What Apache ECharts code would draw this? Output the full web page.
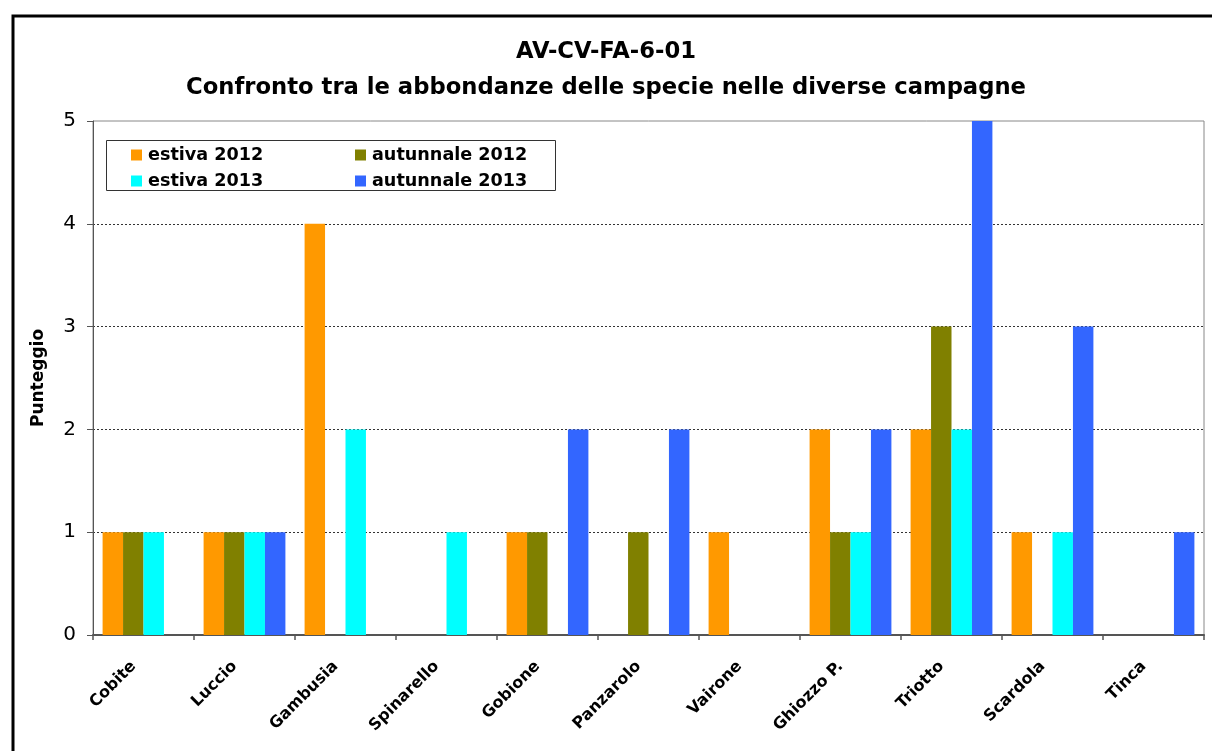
<!DOCTYPE html>
<html>
<head>
<meta charset="utf-8">
<script src="https://cdn.jsdelivr.net/npm/echarts@6/dist/echarts.min.js"></script>
<style>html,body{margin:0;padding:0;background:#fff;}#c{width:1212px;height:751px;}</style>
</head>
<body>
<div id="c"></div>
<script>
const categories = ['Cobite','Luccio','Gambusia','Spinarello','Gobione','Panzarolo','Vairone','Ghiozzo P.','Triotto','Scardola','Tinca'];
const estiva2012 = [1,1,4,0,1,0,1,2,2,1,0];
const autunnale2012 = [1,1,0,0,1,1,0,1,3,0,0];
const estiva2013 = [1,1,2,1,0,0,0,1,2,1,0];
const autunnale2013 = [0,1,0,0,2,2,0,2,5,3,1];
const seriesNames = ['estiva 2012','autunnale 2012','estiva 2013','autunnale 2013'];
const colors = ['#FF9900','#808000','#00FFFF','#3366FF'];
const yTicks = [0,1,2,3,4,5];

const FONT = 'DejaVu Sans';
const chart = echarts.init(document.getElementById('c'));
const data = [estiva2012, autunnale2012, estiva2013, autunnale2013];
const legendPos = [[131,146],[355,146],[131,172],[355,172]];
chart.setOption({
  animation: false,
  backgroundColor: '#fff',
  title: {
    text: 'AV-CV-FA-6-01\nConfronto tra le abbondanze delle specie nelle diverse campagne',
    left: 'center', top: 29,
    textStyle: {fontFamily: FONT, fontSize: 22.7, fontWeight: 'bold', color: '#000', lineHeight: 36}
  },
  graphic: [
    {type: 'rect', shape: {x: 13, y: 16, width: 1220, height: 760}, style: {fill: 'none', stroke: '#000', lineWidth: 3}, z: 100},
    {type: 'rect', shape: {x: 106.5, y: 140.5, width: 449, height: 50}, style: {fill: '#fff', stroke: '#333', lineWidth: 1}, z: 5}
  ],
  legend: seriesNames.map((n, i) => ({
    data: [n], left: legendPos[i][0], top: legendPos[i][1], padding: 0,
    itemWidth: 11, itemHeight: 11, icon: 'rect', itemGap: 0, z: 10,
    textStyle: {fontFamily: FONT, fontSize: 17.6, fontWeight: 'bold', color: '#000', padding: [0,0,0,1]},
    selectedMode: false
  })),
  grid: {left: 93, right: 8, top: 121, bottom: 116, show: true, borderColor: '#888', borderWidth: 1},
  xAxis: {
    type: 'category', data: categories,
    axisLine: {lineStyle: {color: '#555', width: 2}},
    axisTick: {show: true, length: 5, lineStyle: {color: '#555', width: 1.5}},
    axisLabel: {rotate: 45, margin: 19, padding: [0,14,0,0], fontFamily: FONT, fontSize: 16, fontWeight: 'bold', color: '#000', interval: 0}
  },
  yAxis: {
    type: 'value', min: 0, max: 5, interval: 1,
    name: 'Punteggio', nameLocation: 'middle', nameGap: 46,
    nameTextStyle: {fontFamily: FONT, fontSize: 17, fontWeight: 'bold', color: '#000'},
    axisLine: {show: true, lineStyle: {color: '#555', width: 1}},
    axisTick: {show: true, length: 6, lineStyle: {color: '#555'}},
    axisLabel: {fontFamily: FONT, fontSize: 20, color: '#000', margin: 17, formatter: v => yTicks.includes(v) ? String(v) : ''},
    splitLine: {show: true, showMinLine: false, showMaxLine: false, lineStyle: {color: '#333', type: [2,2], width: 1}}
  },
  series: seriesNames.map((n, i) => ({
    name: n, type: 'bar', data: data[i],
    itemStyle: {color: colors[i]},
    barGap: '0%', barCategoryGap: '19%'
  }))
});
</script>
</body>
</html>
